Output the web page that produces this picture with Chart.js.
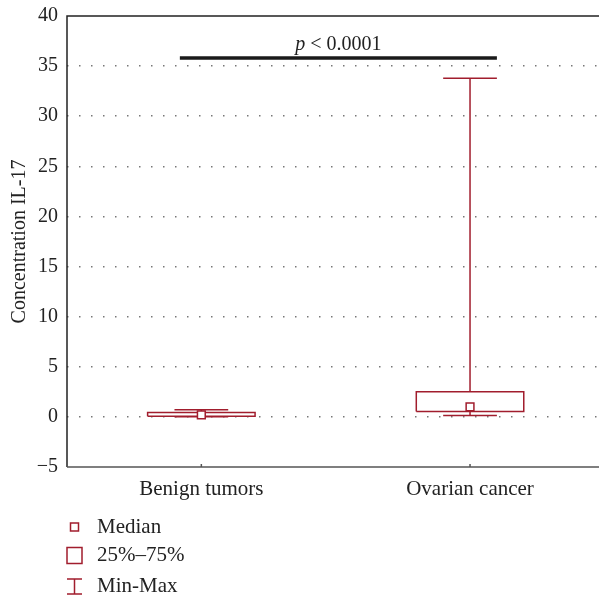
<!DOCTYPE html>
<html>
<head>
<meta charset="utf-8">
<script src="https://cdn.jsdelivr.net/npm/chart.js@4/dist/chart.umd.min.js"></script>
<style>
  html, body { margin: 0; padding: 0; background: #fff; }
  #wrap { width: 599px; height: 597px; }
</style>
</head>
<body>
<div id="wrap"><canvas id="chart" width="599" height="597"></canvas></div>
<script>
// ── Data ──────────────────────────────────────────────────────────
const categories = ['Benign tumors', 'Ovarian cancer'];
const medians = [0.2, 1.0];
const q1 = [0.07, 0.55];
const q3 = [0.45, 2.5];
const mins = [0.02, 0.15];
const maxs = [0.7, 33.8];
const yTicks = [-5, 0, 5, 10, 15, 20, 25, 30, 35, 40];
const pBarLevel = 35.8;
const pBarFrom = -0.08;
const pBarTo = 1.1;
const legendLabels = ['Median', '25%\u201375%', 'Min-Max'];

// ── Style ─────────────────────────────────────────────────────────
const RED = '#a11d2d';
const FONT = '"Liberation Serif", "DejaVu Serif", serif';
const BOX_HALF = 0.2;
const CAP_HALF = 0.1;

function line(points, extra) {
    return Object.assign({
        data: points, showLine: true, borderColor: RED, borderWidth: 1.5,
        pointRadius: 0, fill: false, order: 1
    }, extra || {});
}

const datasets = [];
datasets.push({
    data: medians.map((m, i) => ({ x: i, y: m })),
    showLine: false, pointStyle: 'rect', pointRadius: 5.5,
    backgroundColor: '#fff', borderColor: RED, borderWidth: 1.5, order: 0
});
categories.forEach((c, i) => {
    datasets.push(line([
        { x: i - BOX_HALF, y: q1[i] }, { x: i + BOX_HALF, y: q1[i] },
        { x: i + BOX_HALF, y: q3[i] }, { x: i - BOX_HALF, y: q3[i] },
        { x: i - BOX_HALF, y: q1[i] }
    ]));
    datasets.push(line([{ x: i, y: q3[i] }, { x: i, y: maxs[i] }]));
    datasets.push(line([{ x: i - CAP_HALF, y: maxs[i] }, { x: i + CAP_HALF, y: maxs[i] }]));
    datasets.push(line([{ x: i, y: q1[i] }, { x: i, y: mins[i] }]));
    datasets.push(line([{ x: i - CAP_HALF, y: mins[i] }, { x: i + CAP_HALF, y: mins[i] }]));
});
datasets.push(line([{ x: pBarFrom, y: pBarLevel }, { x: pBarTo, y: pBarLevel }],
    { borderColor: '#1a1a1a', borderWidth: 3.5 }));

// ── Frame, p-value label and legend ───────────────────────────────
const decorations = {
    id: 'decorations',
    afterDraw(chart) {
        const ctx = chart.ctx;
        const a = chart.chartArea;
        const xs = chart.scales.x, ys = chart.scales.y;
        ctx.save();
        ctx.lineWidth = 1.5;
        ctx.strokeStyle = '#222';
        ctx.beginPath();
        ctx.moveTo(chart.width, a.top); ctx.lineTo(a.left, a.top);
        ctx.lineTo(a.left, a.bottom);
        ctx.stroke();
        ctx.strokeStyle = '#555';
        ctx.beginPath();
        ctx.moveTo(a.left, a.bottom); ctx.lineTo(chart.width, a.bottom);
        categories.forEach((c, i) => {
            const px = xs.getPixelForValue(i);
            ctx.moveTo(px, a.bottom); ctx.lineTo(px, a.bottom - 3);
        });
        ctx.stroke();

        // p-value label
        const cx = (xs.getPixelForValue(pBarFrom) + xs.getPixelForValue(pBarTo)) / 2;
        const by = ys.getPixelForValue(pBarLevel) - 8;
        ctx.fillStyle = '#222';
        ctx.textBaseline = 'alphabetic';
        ctx.font = 'italic 20px ' + FONT;
        const pW = ctx.measureText('p').width;
        ctx.font = '20px ' + FONT;
        const rest = ' < 0.0001';
        const rW = ctx.measureText(rest).width;
        const sx = cx - (pW + rW) / 2;
        ctx.font = 'italic 20px ' + FONT;
        ctx.fillText('p', sx, by);
        ctx.font = '20px ' + FONT;
        ctx.fillText(rest, sx + pW, by);

        // legend
        const lx = 74.5;
        const rows = [527, 555.5, 586.5];
        ctx.strokeStyle = RED;
        ctx.lineWidth = 1.5;
        ctx.strokeRect(lx - 4, rows[0] - 4, 8, 8);
        ctx.strokeRect(lx - 7.5, rows[1] - 8, 15, 16);
        ctx.beginPath();
        ctx.moveTo(lx - 7.5, rows[2] - 7.5); ctx.lineTo(lx + 7.5, rows[2] - 7.5);
        ctx.moveTo(lx, rows[2] - 7.5); ctx.lineTo(lx, rows[2] + 7.5);
        ctx.moveTo(lx - 7.5, rows[2] + 7.5); ctx.lineTo(lx + 7.5, rows[2] + 7.5);
        ctx.stroke();
        ctx.fillStyle = '#222';
        ctx.font = '21px ' + FONT;
        ctx.textBaseline = 'middle';
        legendLabels.forEach((t, i) => ctx.fillText(t, 97, rows[i]));
        ctx.restore();
    }
};

new Chart(document.getElementById('chart'), {
    type: 'scatter',
    data: { datasets },
    options: {
        responsive: false,
        animation: false,
        layout: { autoPadding: false, padding: { top: 16, right: 0, bottom: 0, left: 0 } },
        plugins: { legend: { display: false }, tooltip: { enabled: false } },
        scales: {
            x: {
                type: 'linear', min: -0.5, max: 1.48,
                afterBuildTicks: s => { s.ticks = categories.map((c, i) => ({ value: i })); },
                afterFit: s => { s.height = 130; s.paddingLeft = 0; s.paddingRight = 0; },
                grid: { display: false, drawTicks: false },
                border: { display: false },
                ticks: {
                    padding: 10, color: '#222', font: { family: FONT, size: 21 },
                    maxRotation: 0, autoSkip: false,
                    callback: v => categories[v]
                }
            },
            y: {
                min: -5, max: 40,
                afterBuildTicks: s => { s.ticks = yTicks.map(v => ({ value: v })); },
                afterFit: s => { s.width = 67; s.paddingTop = 0; s.paddingBottom = 0; },
                grid: {
                    drawTicks: false, lineWidth: 1.5,
                    color: c => (c.tick && c.tick.value > -5 && c.tick.value < 40) ? '#777' : 'rgba(0,0,0,0)'
                },
                border: { display: false, dash: [1.5, 10.5] },
                title: {
                    display: true, text: 'Concentration IL-17', color: '#222',
                    font: { family: FONT, size: 20 }, padding: { top: 8, bottom: 0 }
                },
                ticks: {
                    padding: 9, color: '#222', font: { family: FONT, size: 20 },
                    callback: v => (v < 0 ? '\u2212' + Math.abs(v) : String(v))
                }
            }
        }
    },
    plugins: [decorations]
});
</script>
</body>
</html>
